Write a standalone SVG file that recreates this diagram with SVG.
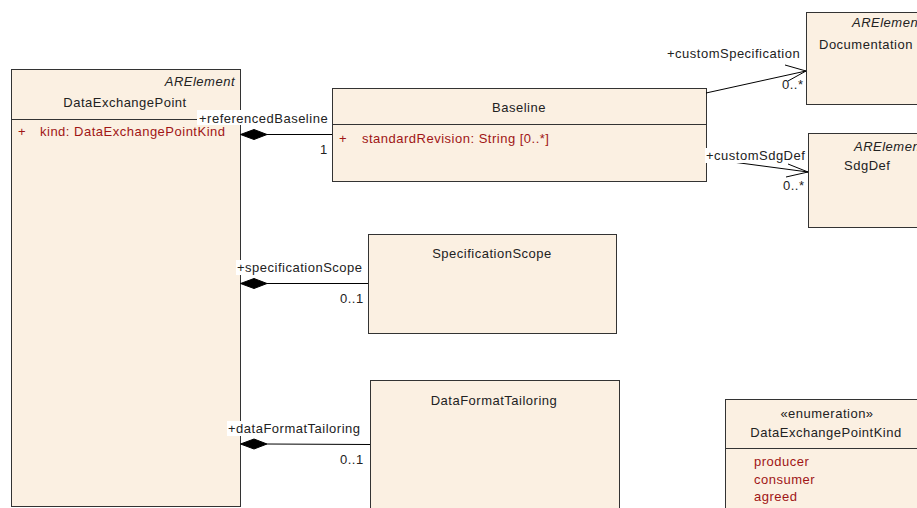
<svg xmlns="http://www.w3.org/2000/svg" width="917" height="508" viewBox="0 0 917 508">
<style>
.box{fill:#FBF0E2;stroke:#333;stroke-width:1}
.sep{stroke:#333;stroke-width:1}
text{font-family:"Liberation Sans",Arial,sans-serif;font-size:13px;letter-spacing:0.5px;fill:#222}
.it{font-style:italic}
.mid{text-anchor:middle}
.end{text-anchor:end}
.attr{fill:#A01515}
.lbl{fill:#fff}
.ln{stroke:#000;stroke-width:1;fill:none}
.dia{fill:#000;stroke:#000}
</style>
<g id="DataExchangePoint">
<rect class="box" x="11.5" y="69.5" width="229" height="437"/>
<line class="sep" x1="11.5" y1="119.5" x2="240.5" y2="119.5"/>
<text class="it end" x="235" y="86">ARElement</text>
<text class="mid" x="125" y="107">DataExchangePoint</text>
<text class="attr" x="18" y="136">+</text>
<text class="attr" x="40" y="136">kind: DataExchangePointKind</text>
</g>
<g id="Baseline">
<rect class="box" x="332.5" y="88.5" width="374" height="93"/>
<line class="sep" x1="332.5" y1="124.5" x2="706.5" y2="124.5"/>
<text class="mid" x="519" y="112">Baseline</text>
<text class="attr" x="339" y="143">+</text>
<text class="attr" x="362" y="143">standardRevision: String [0..*]</text>
</g>
<g id="Documentation">
<rect class="box" x="806.5" y="12.5" width="120" height="92"/>
<text class="it" x="852" y="27">ARElement</text>
<text x="819" y="49">Documentation</text>
</g>
<g id="SdgDef">
<rect class="box" x="808.5" y="133.5" width="120" height="94"/>
<text class="it" x="854" y="151">ARElement</text>
<text x="844" y="170">SdgDef</text>
</g>
<g id="SpecificationScope">
<rect class="box" x="368.5" y="234.5" width="248" height="99"/>
<text class="mid" x="492" y="258">SpecificationScope</text>
</g>
<g id="DataFormatTailoring">
<rect class="box" x="370.5" y="380.5" width="249" height="140"/>
<text class="mid" x="494" y="405">DataFormatTailoring</text>
</g>
<g id="DataExchangePointKind">
<rect class="box" x="725.5" y="399.5" width="200" height="120"/>
<line class="sep" x1="725.5" y1="448.5" x2="925" y2="448.5"/>
<text class="mid" x="827" y="418">«enumeration»</text>
<text class="mid" x="826" y="437">DataExchangePointKind</text>
<text class="attr" x="754" y="466">producer</text>
<text class="attr" x="754" y="484">consumer</text>
<text class="attr" x="754" y="501">agreed</text>
</g>
<g id="connectors">
<line class="ln" x1="267" y1="134.5" x2="332" y2="134.5"/>
<polygon class="dia" points="240.5,134.5 254,129.5 267,134.5 254,139.5"/>
<rect class="lbl" x="197" y="110" width="132" height="15"/>
<text x="199" y="123">+referencedBaseline</text>
<text x="320" y="154">1</text>

<line class="ln" x1="706" y1="93" x2="806" y2="71"/>
<polyline class="ln" points="785,65 806,71 788,81"/>
<text x="667" y="58">+customSpecification</text>
<text x="782" y="89">0..*</text>

<line class="ln" x1="706" y1="158.5" x2="808" y2="172"/>
<polyline class="ln" points="788,164 808,172 786,177"/>
<rect class="lbl" x="705" y="148" width="100" height="15"/>
<text x="706" y="160">+customSdgDef</text>
<text x="783" y="190">0..*</text>

<line class="ln" x1="267" y1="283.5" x2="368" y2="283.5"/>
<polygon class="dia" points="240.5,283.5 254,278.5 267,283.5 254,288.5"/>
<rect class="lbl" x="236" y="260" width="128" height="15"/>
<text x="237" y="272">+specificationScope</text>
<text x="340" y="303">0..1</text>

<line class="ln" x1="267" y1="444" x2="370" y2="444.5"/>
<polygon class="dia" points="240.5,444 254,439 267,444 254,449"/>
<rect class="lbl" x="227" y="421" width="139" height="15"/>
<text x="228" y="433">+dataFormatTailoring</text>
<text x="340" y="464">0..1</text>
</g>
</svg>
